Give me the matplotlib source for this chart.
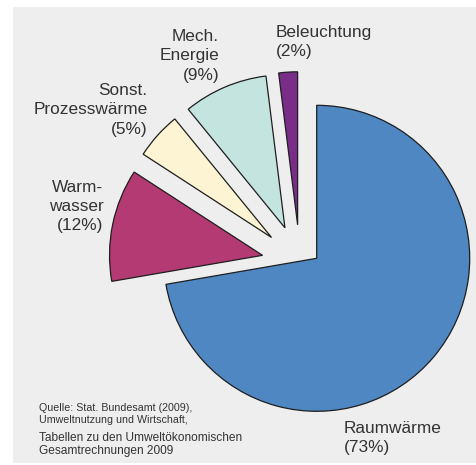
import matplotlib.pyplot as plt

# Final energy use in private households (shares in %)
labels = ["Raumwärme", "Warmwasser", "Sonst. Prozesswärme", "Mech. Energie", "Beleuchtung"]
label_texts = ["Raumwärme\n(73%)", "Warm-\nwasser\n(12%)", "Sonst.\nProzesswärme\n(5%)",
               "Mech.\nEnergie\n(9%)", "Beleuchtung\n(2%)"]
shares = [73, 12, 5, 9, 2]
colors = ["#4e87c2", "#b43a74", "#fcf4d2", "#c4e4e0", "#7a2d88"]

source_small = "Quelle: Stat. Bundesamt (2009),\nUmweltnutzung und Wirtschaft,"
source_large = "Tabellen zu den Umweltökonomischen\nGesamtrechnungen 2009"

W, H = 476, 465
plt.rcParams['font.family'] = ['Liberation Sans', 'DejaVu Sans']

fig = plt.figure(figsize=(W / 100, H / 100), dpi=100, facecolor="white")
# grey panel, axes in pixel units (y up)
ax = fig.add_axes([13 / W, 2 / H, 463 / W, 456 / H], facecolor="#eeeeee")

R = 153
edge = dict(edgecolor="#1e1e1e", linewidth=0.9)

# main slice stays in place
big, _ = ax.pie(shares, colors=colors, radius=R, center=(316.7, 206.7),
                startangle=90, counterclock=False, wedgeprops=edge, frame=True)
for w in big[1:]:
    w.set_visible(False)

# the smaller slices are pulled out (explode is in data units here)
pull = 0.25 * R
small, _ = ax.pie(shares, colors=colors, radius=R, center=(300, 202),
                  explode=[0, pull, pull, pull, pull],
                  startangle=90, counterclock=False, wedgeprops=edge, frame=True)
small[0].set_visible(False)

ax.set_xlim(13, 476)
ax.set_ylim(2, 458)
ax.set_aspect("auto")
ax.set_xticks([])
ax.set_yticks([])
for s in ax.spines.values():
    s.set_visible(False)

txt = dict(fontsize=12.4, color="#333333", linespacing=1.37, va="top")
# positions given as (x, image-y of the block top)
label_pos = [(344, 421, "left"), (103.5, 179.5, "right"), (147.5, 82.8, "right"),
             (219, 28.8, "right"), (276, 24.5, "left")]
for t, (x, y, ha) in zip(label_texts, label_pos):
    ax.text(x, H - y, t, ha=ha, **txt)

ax.text(39, H - 403, source_small, fontsize=7.7, color="#333333",
        linespacing=1.3, va="top", ha="left")
ax.text(39, H - 432, source_large, fontsize=8.6, color="#333333",
        linespacing=1.15, va="top", ha="left")

fig.savefig("out.png", dpi=100, facecolor="white")
